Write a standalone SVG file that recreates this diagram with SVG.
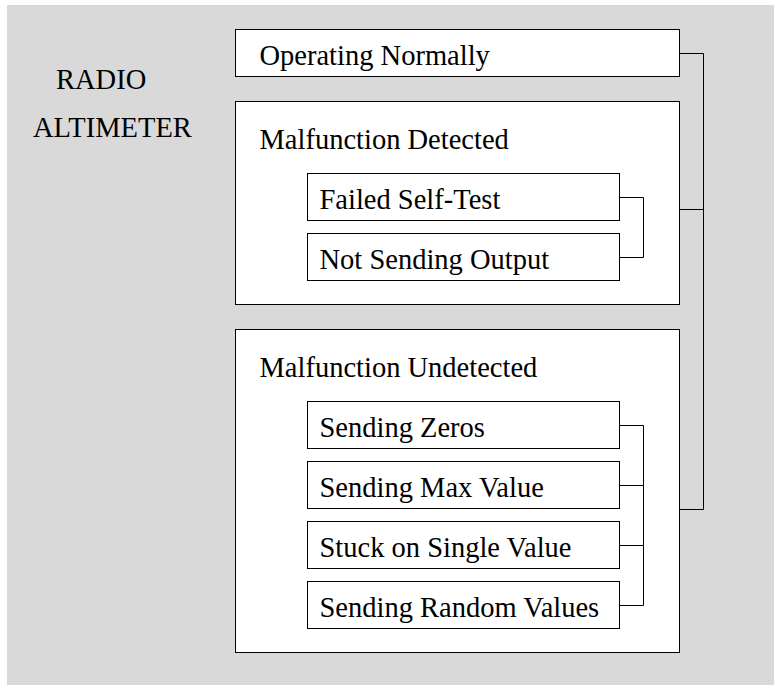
<svg xmlns="http://www.w3.org/2000/svg" width="774" height="685" viewBox="0 0 774 685">
<defs>
<rect id="inner-box" x="0" y="0" width="312" height="47" fill="#ffffff" stroke="#000000" stroke-width="1"/>
</defs>
<rect x="7" y="5" width="767" height="680" fill="#d9d9d9"/>
<g id="title">
<text x="56" y="89" font-family="Liberation Serif, serif" font-size="28.5">RADIO</text>
<text x="33" y="137" font-family="Liberation Serif, serif" font-size="28.5">ALTIMETER</text>
</g>
<g id="operating-normally">
<rect x="235.5" y="29.5" width="444" height="47" fill="#ffffff" stroke="#000000" stroke-width="1"/>
<text x="259.5" y="65" font-family="Liberation Serif, serif" font-size="28.5">Operating Normally</text>
</g>
<g id="malfunction-detected">
<rect x="235.5" y="101.5" width="444" height="203" fill="#ffffff" stroke="#000000" stroke-width="1"/>
<text x="259.5" y="149" font-family="Liberation Serif, serif" font-size="28.5">Malfunction Detected</text>
</g>
<g id="failed-self-test">
<use href="#inner-box" x="307.5" y="173.5"/>
<text x="319.5" y="209" font-family="Liberation Serif, serif" font-size="28.5">Failed Self-Test</text>
</g>
<g id="not-sending-output">
<use href="#inner-box" x="307.5" y="233.5"/>
<text x="319.5" y="269" font-family="Liberation Serif, serif" font-size="28.5">Not Sending Output</text>
</g>
<g id="malfunction-undetected">
<rect x="235.5" y="329.5" width="444" height="323" fill="#ffffff" stroke="#000000" stroke-width="1"/>
<text x="259.5" y="377" font-family="Liberation Serif, serif" font-size="28.5">Malfunction Undetected</text>
</g>
<g id="sending-zeros">
<use href="#inner-box" x="307.5" y="401.5"/>
<text x="319.5" y="437" font-family="Liberation Serif, serif" font-size="28.5">Sending Zeros</text>
</g>
<g id="sending-max-value">
<use href="#inner-box" x="307.5" y="461.5"/>
<text x="319.5" y="497" font-family="Liberation Serif, serif" font-size="28.5">Sending Max Value</text>
</g>
<g id="stuck-on-single-value">
<use href="#inner-box" x="307.5" y="521.5"/>
<text x="319.5" y="557" font-family="Liberation Serif, serif" font-size="28.5">Stuck on Single Value</text>
</g>
<g id="sending-random-values">
<use href="#inner-box" x="307.5" y="581.5"/>
<text x="319.5" y="617" font-family="Liberation Serif, serif" font-size="28.5">Sending Random Values</text>
</g>
<g id="connectors" fill="none" stroke="#000000" stroke-width="1">
<path d="M679.5 53.5H703.5V509.5H679.5M679.5 209.5H703.5"/>
<path d="M619.5 197.5H643.5V257.5H619.5"/>
<path d="M619.5 425.5H643.5V605.5H619.5M619.5 485.5H643.5M619.5 545.5H643.5"/>
</g>
</svg>
